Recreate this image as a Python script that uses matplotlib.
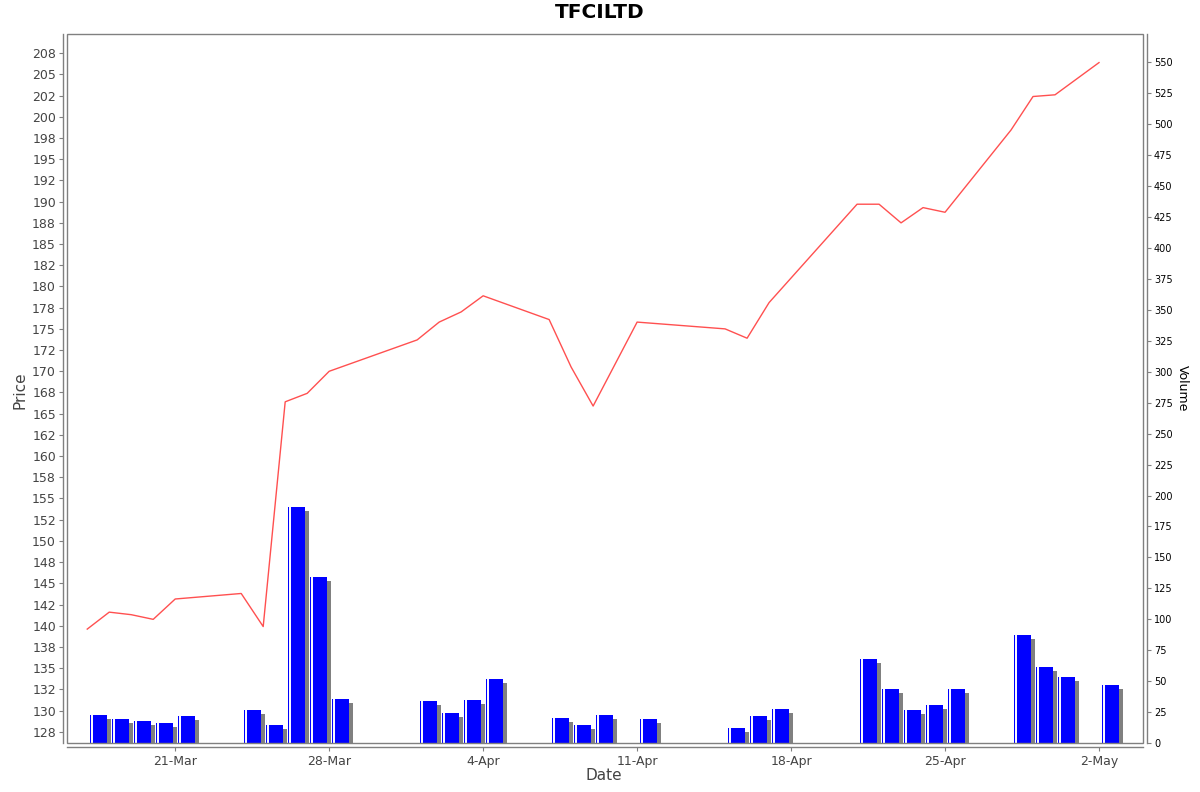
import datetime as dt
import matplotlib
matplotlib.use("Agg")
import matplotlib.pyplot as plt
import matplotlib.dates as mdates
import matplotlib.patheffects as pe
from matplotlib.patches import Rectangle

# trading days
dates = ["2025-03-17", "2025-03-18", "2025-03-19", "2025-03-20", "2025-03-21",
         "2025-03-24", "2025-03-25", "2025-03-26", "2025-03-27", "2025-03-28",
         "2025-04-01", "2025-04-02", "2025-04-03", "2025-04-04",
         "2025-04-07", "2025-04-08", "2025-04-09", "2025-04-11",
         "2025-04-15", "2025-04-16", "2025-04-17",
         "2025-04-21", "2025-04-22", "2025-04-23", "2025-04-24", "2025-04-25",
         "2025-04-28", "2025-04-29", "2025-04-30", "2025-05-02"]

prices = [139.6, 141.6, 141.3, 140.75, 143.15,
          143.8, 139.9, 166.4, 167.4, 170.0,
          173.7, 175.8, 177.0, 178.9,
          176.1, 170.5, 165.9, 175.8,
          175.0, 173.9, 178.1,
          189.7, 189.7, 187.5, 189.3, 188.75,
          198.45, 202.4, 202.6, 206.4]

volumes = [22.6, 19.4, 17.5, 16.4, 21.5,
           26.4, 14.6, 190.6, 134.5, 35.6,
           33.7, 24.5, 34.8, 51.8,
           20.5, 14.5, 22.6, 19.4,
           12.4, 21.5, 27.5,
           67.6, 43.7, 26.7, 30.7, 43.7,
           87.6, 61.7, 53.6, 46.6]

tick_dates = ["2025-03-21", "2025-03-28", "2025-04-04", "2025-04-11",
              "2025-04-18", "2025-04-25", "2025-05-02"]
tick_labels = ["21-Mar", "28-Mar", "4-Apr", "11-Apr", "18-Apr", "25-Apr", "2-May"]

x = mdates.date2num([dt.datetime.strptime(d, "%Y-%m-%d") for d in dates])
xt = mdates.date2num([dt.datetime.strptime(d, "%Y-%m-%d") for d in tick_dates])

W, H = 1200, 792
fig = plt.figure(figsize=(W / 100, H / 100), dpi=100)
fig.patch.set_facecolor("white")
ax = fig.add_axes([67 / W, 1 - 743 / H, (1143 - 67) / W, (743 - 34) / H])
axv = ax.twinx()
ax.set_zorder(2)
axv.set_zorder(1)
ax.patch.set_visible(False)

# volume bars with drop shadow
shadow = [pe.SimplePatchShadow(offset=(2.9, -2.9), shadow_rgbFace="#808080", alpha=1.0),
          pe.Normal()]
axv.bar(x + 0.12, volumes, width=0.8, align="edge", color="#0000ff",
        linewidth=0, path_effects=shadow)
axv.vlines(x + 0.225, 0, volumes, color="white", linewidth=1.4)

# price line
ax.plot(x, prices, color="#ff5050", linewidth=1.0)

# limits / ticks
ax.set_xlim(xt[0] - 4.92, xt[0] + 44.0)
ax.set_ylim(126.17, 209.77)
axv.set_ylim(0, 573)

price_ticks = [127.5 + 2.5 * i for i in range(33)]
ax.set_yticks(price_ticks)
ax.set_yticklabels([f"{v:.0f}" for v in price_ticks])
axv.set_yticks(range(0, 551, 25))
ax.set_xticks(xt)
ax.set_xticklabels(tick_labels)

gray = "#808080"
for s in ["top", "right"]:
    ax.spines[s].set_visible(False)
for s in ["top", "left", "bottom"]:
    axv.spines[s].set_visible(False)
for sp in [ax.spines["left"], ax.spines["bottom"], axv.spines["right"]]:
    sp.set_position(("outward", 2.9))
    sp.set_color(gray)
    sp.set_linewidth(1.0)

# plot frame
ax.add_patch(Rectangle((0, 0), 1, 1, transform=ax.transAxes, fill=False,
                       edgecolor=gray, linewidth=1.0, clip_on=False))

ax.tick_params(axis="y", length=3, width=0.8, color=gray, labelsize=9,
               labelcolor="#444444", pad=2)
ax.tick_params(axis="x", length=3, width=0.8, color=gray, labelsize=9,
               labelcolor="#444444", pad=3)
axv.tick_params(axis="y", length=3, width=0.8, color=gray, labelsize=7,
                labelcolor="black", pad=2)

fig.text(0.5, 1 - 12 / H, "TFCILTD", ha="center", va="center",
         fontsize=14.5, fontweight="bold")
fig.text(20 / W, 1 - 390 / H, "Price", ha="center", va="center", rotation=90,
         fontsize=11, color="#444444")
fig.text(604 / W, 1 - 776 / H, "Date", ha="center", va="center",
         fontsize=11, color="#444444")
fig.text(1182 / W, 1 - 388 / H, "Volume", ha="center", va="center", rotation=270,
         fontsize=9, color="black")

fig.savefig("out.png", dpi=100)
